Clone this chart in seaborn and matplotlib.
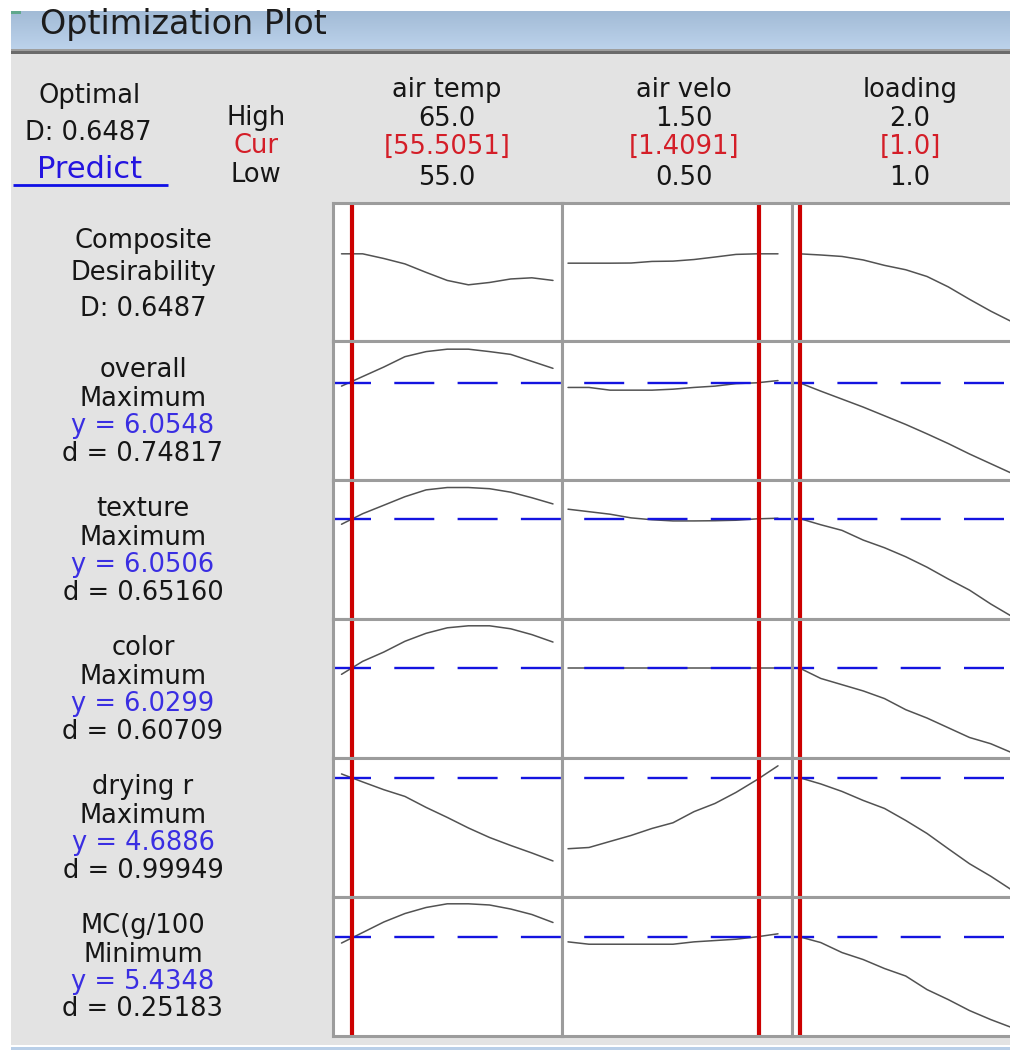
import numpy as np
import pandas as pd
import matplotlib
matplotlib.use("Agg")
import matplotlib.pyplot as plt
import seaborn as sns
from matplotlib.patches import Rectangle
from matplotlib.colors import LinearSegmentedColormap

sns.set_theme(style="white")
plt.rcParams["font.family"] = ["DejaVu Sans"]
plt.rcParams["lines.scale_dashes"] = False

# ---- factor settings -------------------------------------------------------
factors = ["air temp", "air velo", "loading"]
factor_high = ["65.0", "1.50", "2.0"]
factor_low = ["55.0", "0.50", "1.0"]
factor_cur = [55.5051, 1.4091, 1.0]
factor_cur_text = ["[55.5051]", "[1.4091]", "[1.0]"]

air_temp = [55, 56, 57, 58, 59, 60, 61, 62, 63, 64, 65]
air_velo = [0.5, 0.6, 0.7, 0.8, 0.9, 1.0, 1.1, 1.2, 1.3, 1.4, 1.5]
loading = [1.0, 1.1, 1.2, 1.3, 1.4, 1.5, 1.6, 1.7, 1.8, 1.9, 2.0]

# ---- composite desirability traces ----------------------------------------
composite_D = 0.6487
comp_temp = [0.649, 0.649, 0.617, 0.580, 0.522, 0.467, 0.437, 0.453, 0.477, 0.485, 0.467]
comp_velo = [0.585, 0.585, 0.585, 0.586, 0.597, 0.599, 0.610, 0.627, 0.645, 0.649, 0.649]
comp_load = [0.649, 0.641, 0.631, 0.607, 0.570, 0.540, 0.494, 0.423, 0.338, 0.257, 0.184]

# ---- response traces --------------------------------------------------------
overall_temp = [6.007, 6.145, 6.282, 6.431, 6.504, 6.539, 6.539, 6.504, 6.464, 6.364, 6.263]
overall_velo = [5.988, 5.988, 5.949, 5.949, 5.949, 5.963, 5.988, 6.007, 6.043, 6.055, 6.087]
overall_load = [6.055, 5.935, 5.820, 5.705, 5.580, 5.455, 5.320, 5.180, 5.030, 4.890, 4.750]

texture_temp = [5.968, 6.120, 6.242, 6.365, 6.463, 6.497, 6.497, 6.480, 6.430, 6.350, 6.261]
texture_velo = [6.185, 6.149, 6.113, 6.060, 6.033, 6.016, 6.016, 6.019, 6.026, 6.046, 6.055]
texture_load = [6.051, 5.961, 5.880, 5.740, 5.630, 5.500, 5.350, 5.180, 5.020, 4.820, 4.640]

color_temp = [5.939, 6.126, 6.260, 6.415, 6.530, 6.609, 6.638, 6.638, 6.595, 6.511, 6.404]
color_velo = [6.030, 6.030, 6.030, 6.030, 6.030, 6.030, 6.030, 6.030, 6.030, 6.030, 6.030]
color_load = [6.030, 5.880, 5.790, 5.700, 5.590, 5.430, 5.310, 5.170, 5.030, 4.940, 4.810]

drying_temp = [4.743, 4.628, 4.516, 4.419, 4.261, 4.117, 3.965, 3.828, 3.713, 3.605, 3.490]
drying_velo = [3.666, 3.684, 3.771, 3.857, 3.958, 4.040, 4.200, 4.318, 4.477, 4.660, 4.860]
drying_load = [4.689, 4.599, 4.491, 4.361, 4.246, 4.073, 3.886, 3.666, 3.450, 3.270, 3.070]

mc_temp = [5.341, 5.492, 5.644, 5.766, 5.853, 5.906, 5.906, 5.889, 5.831, 5.752, 5.637]
mc_velo = [5.358, 5.324, 5.324, 5.324, 5.324, 5.324, 5.358, 5.377, 5.396, 5.431, 5.474]
mc_load = [5.431, 5.348, 5.204, 5.103, 4.974, 4.866, 4.671, 4.527, 4.369, 4.239, 4.123]

responses = ["overall", "texture", "color", "drying r", "MC(g/100"]
goals = ["Maximum", "Maximum", "Maximum", "Maximum", "Minimum"]
y_pred = [6.0548, 6.0506, 6.0299, 4.6886, 5.4348]
d_vals = [0.74817, 0.65160, 0.60709, 0.99949, 0.25183]

# vertical range shown in each response row (top of row)
row_top_value = [6.651, 6.601, 6.733, 4.971, 6.004]
row_span = 2.0
comp_ylim = (0.05, 1.0)

# ---- long-form table ---------------------------------------------------------
levels = [air_temp, air_velo, loading]
traces = {
    "Composite": [comp_temp, comp_velo, comp_load],
    "overall": [overall_temp, overall_velo, overall_load],
    "texture": [texture_temp, texture_velo, texture_load],
    "color": [color_temp, color_velo, color_load],
    "drying r": [drying_temp, drying_velo, drying_load],
    "MC(g/100": [mc_temp, mc_velo, mc_load],
}
rows = []
for resp, series in traces.items():
    for f, lev, vals in zip(factors, levels, series):
        for x, v in zip(lev, vals):
            rows.append({"response": resp, "factor": f, "level": x, "value": v})
df = pd.DataFrame(rows)

# ---- canvas ------------------------------------------------------------------
W, H = 1010, 1050
fig = plt.figure(figsize=(W / 100, H / 100), dpi=100)
fig.patch.set_facecolor("white")

bg = fig.add_axes([0, 0, 1, 1])
bg.set_axis_off()
bg.add_patch(Rectangle((11, 54), W - 11, 991, color="#e3e3e3", lw=0))
grad = np.linspace(0, 1, 64).reshape(-1, 1)
bar_cmap = LinearSegmentedColormap.from_list("bar", ["#a2bbd6", "#bcd2eb"])
bg.imshow(grad, extent=(11, W, 49, 11), aspect="auto", cmap=bar_cmap,
          interpolation="bilinear")
bg.add_patch(Rectangle((11, 11), 10, 3, color="#5fa88c", lw=0))
bg.add_patch(Rectangle((11, 49), W - 11, 2, color="#9e9e9e", lw=0))
bg.add_patch(Rectangle((11, 51), W - 11, 3, color="#6b6b6b", lw=0))
bg.add_patch(Rectangle((11, 1047), W - 11, 3, color="#b9cfe8", lw=0))
bg.set_xlim(0, W)
bg.set_ylim(H, 0)

BLACK = "#161616"
BLUE = "#3a2ee2"
RED = "#d41e28"
FS = 18.5


def put(x, y, s, color=BLACK, size=FS, ha="center"):
    bg.text(x, y, s, ha=ha, va="center", color=color, fontsize=size)


bg.text(40, 34, "Optimization Plot", ha="left", va="baseline",
        fontsize=24, color="#1c1c1c")

# header block
put(90, 96, "Optimal")
put(88, 133, f"D: {composite_D:.4f}")
put(90, 170, "Predict", color="#2414e0", size=22)
bg.plot([13, 168], [185, 185], color="#1010e6", lw=2.0, solid_capstyle="butt")
put(256, 118, "High")
put(256, 146, "Cur", color=RED)
put(256, 175, "Low")

col_centers = [447, 684, 910]
for cx, name, hi, cur, lo in zip(col_centers, factors, factor_high,
                                 factor_cur_text, factor_low):
    put(cx, 90, name)
    put(cx, 119, hi)
    put(cx, 147, cur, color=RED)
    put(cx, 178, lo)

# ---- panel grid ----------------------------------------------------------------
col_edges = [333, 562, 792, 1021]
col_xlim = [(54.598, 65.426), (0.4714, 1.5667), (0.9647, 2.0424)]
row0, row_h = 202.5, 138.9
DASH_START, DASH_ON, DASH_OFF = 331.0, 40.0, 23.3
period = DASH_ON + DASH_OFF
row_names = ["Composite"] + responses

for r, resp in enumerate(row_names):
    top = row0 + r * row_h
    for c, fac in enumerate(factors):
        x0, x1 = col_edges[c], col_edges[c + 1]
        ax = fig.add_axes([x0 / W, 1 - (top + row_h) / H, (x1 - x0) / W, row_h / H])
        ax.set_facecolor("white")
        sub = df[(df["response"] == resp) & (df["factor"] == fac)]
        sns.lineplot(data=sub, x="level", y="value", ax=ax, color="#525252",
                     linewidth=1.1, legend=False, errorbar=None, sort=False,
                     zorder=2)
        if r > 0:
            phase = ((x0 - DASH_START) % period) * 0.72
            ax.axhline(y_pred[r - 1], color="#1414e0", lw=1.7, zorder=3,
                       linestyle=(phase, (DASH_ON * 0.72, DASH_OFF * 0.72)))
            hi = row_top_value[r - 1]
            ax.set_ylim(hi - row_span, hi)
        else:
            ax.set_ylim(*comp_ylim)
        ax.axvline(factor_cur[c], color="#cc0000", lw=3.0, zorder=4)
        ax.set_xlim(*col_xlim[c])
        ax.set_xticks([])
        ax.set_yticks([])
        ax.set_xlabel("")
        ax.set_ylabel("")
        for sp in ax.spines.values():
            sp.set_color("#9c9c9c")
            sp.set_linewidth(2.2)
            sp.set_zorder(5)
            sp.set_visible(True)

# ---- row labels ----------------------------------------------------------------
LX = 143
put(LX, 241, "Composite")
put(LX, 273, "Desirability")
put(LX, 309, f"D: {composite_D:.4f}")
for i, (name, goal, yv, dv) in enumerate(zip(responses, goals, y_pred, d_vals)):
    top = row0 + (i + 1) * row_h
    put(LX, top + 29, name)
    put(LX, top + 57.5, goal)
    put(LX, top + 85, f"y = {yv:.4f}", color=BLUE)
    put(LX, top + 112.5, f"d = {dv:.5f}")

fig.savefig("out.png", dpi=100)
